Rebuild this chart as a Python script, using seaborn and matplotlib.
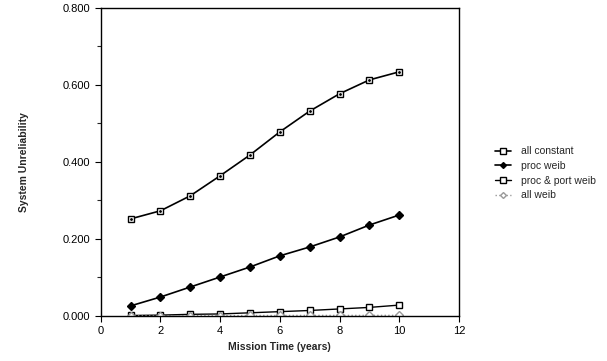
import matplotlib
matplotlib.use("Agg")
import matplotlib.pyplot as plt
import seaborn as sns
import pandas as pd
from matplotlib.ticker import MultipleLocator, FormatStrFormatter
from matplotlib.lines import Line2D

years = [1, 2, 3, 4, 5, 6, 7, 8, 9, 10]
all_constant = [0.252, 0.273, 0.312, 0.364, 0.418, 0.478, 0.532, 0.577, 0.613, 0.634]
proc_weib = [0.026, 0.049, 0.075, 0.101, 0.127, 0.156, 0.179, 0.205, 0.236, 0.262]
proc_port_weib = [0.001, 0.002, 0.004, 0.005, 0.008, 0.011, 0.014, 0.018, 0.022, 0.028]
all_weib = [0.0, 0.0, 0.0005, 0.0007, 0.001, 0.001, 0.0012, 0.0012, 0.0013, 0.0014]
series_names = ["all constant", "proc weib", "proc & port weib", "all weib"]

sns.set_theme(style="white")
plt.rcParams['font.family'] = ['Liberation Sans', 'DejaVu Sans']

df = pd.DataFrame({
    "t": years * 4,
    "v": all_constant + proc_weib + proc_port_weib + all_weib,
    "s": sum([[n] * len(years) for n in series_names], []),
})

fig = plt.figure(figsize=(6.07, 3.61), dpi=100)
ax = fig.add_axes([0.166, 0.125, 0.590, 0.853])

styles = {
    "all constant": dict(color="black", marker="s", mfc="white", mec="black", ms=5, ls="-", lw=1.2),
    "proc weib": dict(color="black", marker="D", mfc="black", mec="black", ms=4, ls="-", lw=1.2),
    "proc & port weib": dict(color="black", marker="s", mfc="white", mec="black", ms=5, ls="-", lw=1.0),
    "all weib": dict(color="#999999", marker="D", mfc="white", mec="#999999", ms=4, ls=":", lw=1.0),
}

for name in series_names:
    sub = df[df["s"] == name]
    sns.lineplot(data=sub, x="t", y="v", ax=ax, color=styles[name]["color"],
                 linewidth=styles[name]["lw"], linestyle=styles[name]["ls"],
                 marker=styles[name]["marker"], markersize=styles[name]["ms"],
                 markerfacecolor=styles[name]["mfc"], markeredgecolor=styles[name]["mec"],
                 markeredgewidth=1.0, label=name, legend=False)
    if name == "all constant":
        ax.plot(sub["t"], sub["v"], ls="none", marker=".", ms=2, color="black")

ax.set_xlim(0, 12)
ax.set_ylim(0, 0.8)
ax.xaxis.set_major_locator(MultipleLocator(2))
ax.yaxis.set_major_locator(MultipleLocator(0.2))
ax.yaxis.set_minor_locator(MultipleLocator(0.1))
ax.xaxis.set_minor_locator(MultipleLocator(1))
ax.yaxis.set_major_formatter(FormatStrFormatter("%.3f"))
ax.tick_params(axis="both", which="major", direction="out", length=4, width=0.8,
               labelsize=8, colors="black", bottom=True, left=True)
ax.tick_params(axis="y", which="minor", direction="out", length=3, width=0.8, left=True)
ax.tick_params(axis="x", which="minor", length=0)
for sp in ax.spines.values():
    sp.set_color("black")
    sp.set_linewidth(1.0)
ax.set_xlabel("Mission Time (years)", fontsize=7.5, fontweight="bold")
ax.set_ylabel("System Unreliability", fontsize=7.5, fontweight="bold", labelpad=24)

leg_handles = [Line2D([], [], color=styles[n]["color"], ls=styles[n]["ls"], lw=styles[n]["lw"],
                      marker=styles[n]["marker"], ms=styles[n]["ms"] - 1,
                      mfc=styles[n]["mfc"], mec=styles[n]["mec"]) for n in series_names]
fig.legend(leg_handles, series_names, loc="center left", bbox_to_anchor=(0.80, 0.52),
           frameon=False, fontsize=7.5, handlelength=1.5, labelspacing=0.45, handletextpad=1.0)

fig.savefig("out.png", dpi=100)
